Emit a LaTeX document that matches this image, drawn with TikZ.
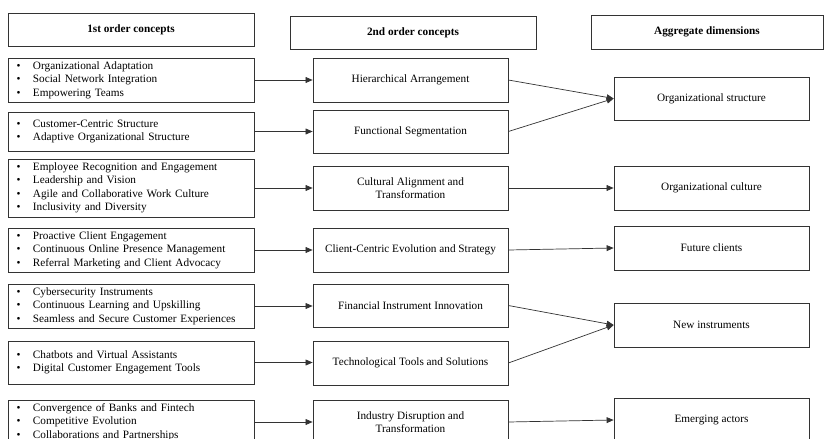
\documentclass[tikz,border=0pt]{standalone}
\usepackage{fontspec}
\setmainfont{Liberation Serif}
\usetikzlibrary{arrows.meta}
\newcommand{\itm}{\makebox[5.4mm][l]{\hspace{0.5mm}\textbullet}}

\begin{document}
\begin{tikzpicture}[x=0.3mm,y=-0.3mm,
  box/.style={draw=black!80,line width=0.6pt,inner sep=0pt,font=\fontsize{9.6}{11.5}\selectfont},
  head/.style={box,font=\fontsize{9.6}{11.5}\selectfont\bfseries},
  list/.style={box,inner xsep=2.1mm,text width=69.6mm,align=left},
  mid/.style={box,align=center,minimum width=58.5mm},
  arr/.style={draw=black!80,line width=0.6pt,-{Triangle[length=6pt,width=5pt]}}]
%\draw[help lines,step=50] (0,0) grid (825,439);
\useasboundingbox (0,0) rectangle (825,439);
\clip (0,0) rectangle (825,439);

\draw node[head,minimum width=73.8mm,minimum height=9.9mm] (H1) at (131,29.5) {1st order concepts};
\draw node[head,minimum width=73.8mm,minimum height=9.9mm] (H2) at (413,32.5) {2nd order concepts};
\draw node[head,minimum width=69.6mm,minimum height=10.2mm] (H3) at (707,32) {Aggregate dimensions};

\draw node[list,minimum height=13.2mm] (A1) at (131,80) {\itm Organizational Adaptation\\\itm Social Network Integration\\\itm Empowering Teams};
\draw node[list,minimum height=11.7mm] (A2) at (131,131.5) {\itm Customer-Centric Structure\\\itm Adaptive Organizational Structure};
\draw node[list,minimum height=17.4mm] (A3) at (131,188) {\itm Employee Recognition and Engagement\\\itm Leadership and Vision\\\itm Agile and Collaborative Work Culture\\\itm Inclusivity and Diversity};
\draw node[list,minimum height=13.2mm] (A4) at (131,250) {\itm Proactive Client Engagement\\\itm Continuous Online Presence Management\\\itm Referral Marketing and Client Advocacy};
\draw node[list,minimum height=13.2mm] (A5) at (131,306) {\itm Cybersecurity Instruments\\\itm Continuous Learning and Upskilling\\\itm Seamless and Secure Customer Experiences};
\draw node[list,minimum height=12.9mm] (A6) at (131,362.5) {\itm Chatbots and Virtual Assistants\\\itm Digital Customer Engagement Tools};
\draw node[list,minimum height=13.2mm] (A7) at (131,422) {\itm Convergence of Banks and Fintech\\\itm Competitive Evolution\\\itm Collaborations and Partnerships};

\draw node[mid,minimum height=13.2mm] (B1) at (410.5,80) {Hierarchical Arrangement};
\draw node[mid,minimum height=12.9mm] (B2) at (410.5,131.5) {Functional Segmentation};
\draw node[mid,minimum height=13.2mm] (B3) at (410.5,188) {Cultural Alignment and\\Transformation};
\draw node[mid,minimum height=13.2mm] (B4) at (410.5,250) {Client-Centric Evolution and Strategy};
\draw node[mid,minimum height=12.9mm] (B5) at (410.5,305.5) {Financial Instrument Innovation};
\draw node[mid,minimum height=13.2mm] (B6) at (410.5,363) {Technological Tools and Solutions};
\draw node[mid,minimum height=13.2mm] (B7) at (410.5,422) {Industry Disruption and\\Transformation};

\draw node[mid,minimum height=12.9mm] (C1) at (711.5,98.5) {Organizational structure};
\draw node[mid,minimum height=13.2mm] (C2) at (711.5,188) {Organizational culture};
\draw node[mid,minimum height=13.2mm] (C3) at (711.5,248) {Future clients};
\draw node[mid,minimum height=13.2mm] (C4) at (711.5,325) {New instruments};
\draw node[mid,minimum height=13.2mm] (C5) at (711.5,420) {Emerging actors};

\draw[arr] (A1.east) -- (A1.east -| B1.west);
\draw[arr] (A2.east) -- (A2.east -| B2.west);
\draw[arr] (A3.east) -- (A3.east -| B3.west);
\draw[arr] (A4.east) -- (A4.east -| B4.west);
\draw[arr] (A5.east) -- (A5.east -| B5.west);
\draw[arr] (A6.east) -- (A6.east -| B6.west);
\draw[arr] (A7.east) -- (A7.east -| B7.west);

\draw[arr] (B1.east) -- (C1.west);
\draw[arr] (B2.east) -- (C1.west);
\draw[arr] (B3.east) -- (C2.west);
\draw[arr] (B4.east) -- (C3.west);
\draw[arr] (B5.east) -- (C4.west);
\draw[arr] (B6.east) -- (C4.west);
\draw[arr] (B7.east) -- (C5.west);
\end{tikzpicture}
\end{document}
